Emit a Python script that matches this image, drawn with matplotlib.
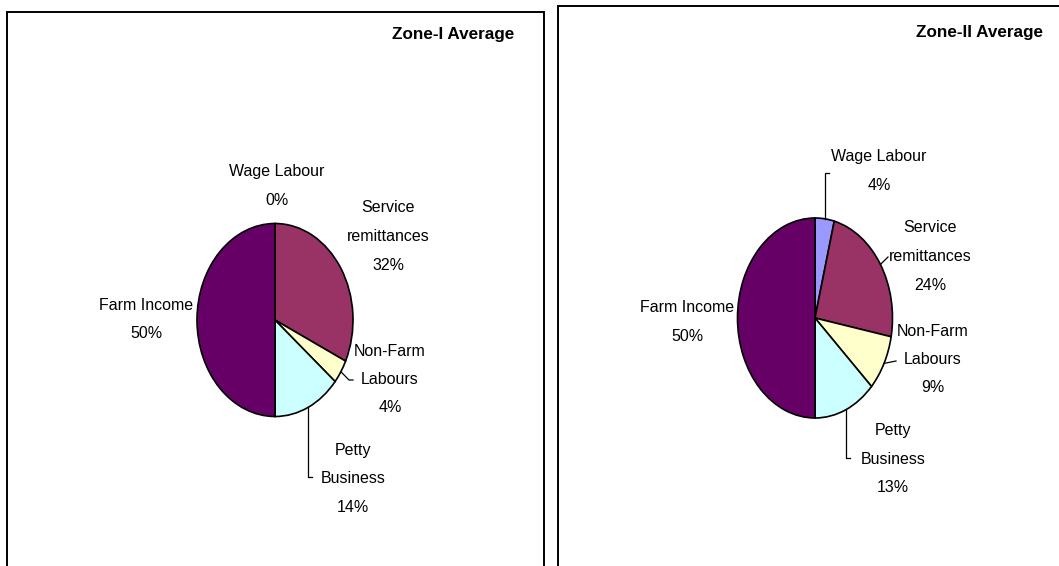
import matplotlib
matplotlib.use("Agg")
import matplotlib.pyplot as plt
from matplotlib.patches import Rectangle
from matplotlib.lines import Line2D
import numpy as np

plt.rcParams['font.family'] = ['Liberation Sans', 'DejaVu Sans']

# Income sources and their shares (%) in each zone
categories = ["Wage Labour", "Service\nremittances", "Non-Farm\nLabours",
              "Petty\nBusiness", "Farm Income"]
zone1_share = [0, 32, 4, 14, 50]
zone2_share = [4, 24, 9, 13, 50]
titles = ["Zone-I Average", "Zone-II Average"]
colors = ["#9999FF", "#993366", "#FFFFCC", "#CCFFFF", "#660066"]

W, H = 1059, 566
fig = plt.figure(figsize=(W / 100, H / 100), dpi=100)


def fx(x):
    return x / W


def fy(y):
    return 1 - y / H


# panel frames (they run off the canvas at the bottom / right)
for (x0, y0, x1, y1) in [(7, 12, 544, 600), (558, 6, 1100, 600)]:
    fig.add_artist(Rectangle((fx(x0), fy(y1)), fx(x1 - x0), fy(y0) - fy(y1),
                             transform=fig.transFigure, fill=False,
                             edgecolor="black", linewidth=1.4, clip_on=False))

# pie geometry in pixels: centre x, centre y, half width, half height
pies = [(275, 320, 78, 96.5), (815, 318, 77.5, 100)]

# label placement: centre x, first-line y  (pixels)
label_pos = [
    [(277, 172), (388, 208), (390, 351), (353, 450), (146, 305)],
    [(879, 157), (930, 228), (933, 331), (893, 431), (687, 308)],
]
# leader lines: index -> elbow points after the wedge anchor
# (None = keep anchor x, small number = offset from previous x)
leaders = [
    {2: [(349, 380), (353, 380)], 3: [(None, 477), (4, 477)]},
    {0: [(None, 173), (4, 173)], 1: [(888, 257)], 2: [(896, 361)],
     3: [(None, 458), (4, 458)]},
]
title_pos = [(514, 34), (1043, 32)]

line_gap = 28.5
fs = 11.5
title_fs = 12.3

for k, shares in enumerate([zone1_share, zone2_share]):
    cx, cy, rx, ry = pies[k]
    ax = fig.add_axes([fx(cx - rx), fy(cy + ry), fx(2 * rx), fy(cy - ry) - fy(cy + ry)])
    ax.pie(shares, colors=colors, startangle=90, counterclock=False,
           wedgeprops=dict(edgecolor="black", linewidth=1.2))
    ax.set_aspect("auto")
    ax.set_xlim(-1, 1)
    ax.set_ylim(-1, 1)
    ax.axis("off")

    # wedge mid-angles for leader anchors
    total = float(sum(shares))
    start = 90.0
    mids = []
    for v in shares:
        sweep = 360.0 * v / total
        mids.append(start - sweep / 2)
        start -= sweep

    for i, (cat, v) in enumerate(zip(categories, shares)):
        lines = cat.split("\n") + [f"{v}%"]
        lx, ly = label_pos[k][i]
        for j, t in enumerate(lines):
            fig.text(fx(lx), fy(ly + j * line_gap), t, ha="center", va="center",
                     fontsize=fs, color="black")

    for i, pts in leaders[k].items():
        a = np.deg2rad(mids[i])
        ex = cx + rx * np.cos(a)
        ey = cy - ry * np.sin(a)
        xs, ys = [ex], [ey]
        for (px, py) in pts:
            if px is None:
                px = ex
            elif px < 20:
                px = xs[-1] + px
            xs.append(px)
            ys.append(py)
        fig.add_artist(Line2D([fx(x) for x in xs], [fy(y) for y in ys],
                              transform=fig.transFigure, color="black",
                              linewidth=0.9))

    tx, ty = title_pos[k]
    fig.text(fx(tx), fy(ty), titles[k], ha="right", va="center",
             fontsize=title_fs, fontweight="bold", color="black")

fig.savefig("out.png", dpi=100, facecolor="white")
